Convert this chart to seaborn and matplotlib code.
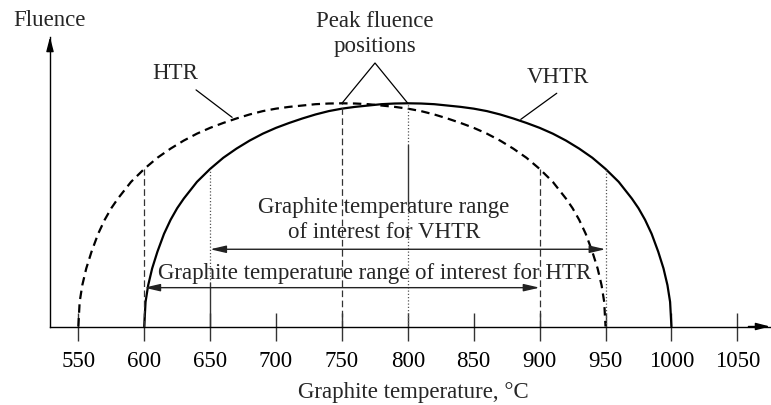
import numpy as np
import matplotlib
matplotlib.use("Agg")
import matplotlib.pyplot as plt
import seaborn as sns

# Relative neutron fluence versus graphite temperature (°C), peak = 1
htr_temp = [550, 551, 553, 556, 560, 565, 570, 575, 580, 590, 600, 610, 620, 630, 640,
            650, 660, 670, 680, 690, 700, 710, 720, 730, 740, 750,
            760, 770, 780, 790, 800, 810, 820, 830, 840, 850, 860, 870, 880,
            890, 900, 910, 920, 925, 930, 935, 940, 944, 947, 949, 950]
htr_fluence = [0.0, 0.11, 0.185, 0.26, 0.335, 0.415, 0.478, 0.530, 0.573, 0.648, 0.706,
               0.756, 0.797, 0.833, 0.864, 0.890, 0.912, 0.932, 0.950, 0.965, 0.976,
               0.984, 0.990, 0.996, 0.999, 1.0,
               0.999, 0.996, 0.990, 0.984, 0.976, 0.965, 0.950, 0.932, 0.912, 0.890,
               0.864, 0.833, 0.797, 0.756, 0.706, 0.648, 0.573, 0.530, 0.478, 0.415,
               0.335, 0.26, 0.185, 0.11, 0.0]

vhtr_temp = [600, 601, 603, 606, 610, 615, 620, 625, 630, 640, 650, 660, 670, 680, 690,
             700, 710, 720, 730, 740, 750, 760, 770, 780, 790, 800,
             810, 820, 830, 840, 850, 860, 870, 880, 890, 900, 910, 920, 930,
             940, 950, 960, 970, 975, 980, 985, 990, 994, 997, 999, 1000]
vhtr_fluence = [0.0, 0.11, 0.185, 0.26, 0.335, 0.415, 0.478, 0.530, 0.573, 0.648, 0.706,
                0.756, 0.797, 0.833, 0.864, 0.890, 0.912, 0.932, 0.950, 0.965, 0.976,
                0.984, 0.990, 0.996, 0.999, 1.0,
                0.999, 0.996, 0.990, 0.984, 0.976, 0.965, 0.950, 0.932, 0.912, 0.890,
                0.864, 0.833, 0.797, 0.756, 0.706, 0.648, 0.573, 0.530, 0.478, 0.415,
                0.335, 0.26, 0.185, 0.11, 0.0]

x_ticks = [550, 600, 650, 700, 750, 800, 850, 900, 950, 1000, 1050]
htr_range = [600, 900]
vhtr_range = [650, 950]
htr_peak = 750
vhtr_peak = 800

FS = 16.5


def fluence_at(temps, values, t):
    return values[temps.index(t)]


sns.set_theme(style="white")
plt.rcParams["font.family"] = ["Liberation Serif", "DejaVu Serif"]
plt.rcParams["font.size"] = FS

fig = plt.figure(figsize=(7.71, 4.05), dpi=100)
ax = fig.add_axes([50 / 771, (405 - 326.5) / 405, 720 / 771, (326.5 - 37) / 405])
ax.set_xlim(528.5, 1074.8)
ax.set_ylim(0, 1.297)

# Fluence curves
sns.lineplot(x=htr_temp, y=htr_fluence, ax=ax, color="black", lw=1.6,
             linestyle=(0, (3.8, 2.4)), sort=False, estimator=None)
sns.lineplot(x=vhtr_temp, y=vhtr_fluence, ax=ax, color="black", lw=1.6,
             sort=False, estimator=None)

# Axes with arrow heads
for side in ("top", "right"):
    ax.spines[side].set_visible(False)
for side in ("left", "bottom"):
    ax.spines[side].set_color("black")
    ax.spines[side].set_linewidth(1.0)
ax.set_yticks([])
ax.set_xticks(x_ticks)
ax.set_xticklabels([str(t) for t in x_ticks])
ax.tick_params(axis="x", direction="inout", length=19.5, width=1.0, color="#333333",
               pad=8, labelsize=FS, labelcolor="black", bottom=True)
ax.grid(False)

head = dict(arrowstyle="-|>,head_length=0.85,head_width=0.22", color="black",
            lw=1.0, shrinkA=0, shrinkB=0, mutation_scale=10)
ax.annotate("", xy=(0, 1), xytext=(0, 0.95), xycoords="axes fraction",
            textcoords="axes fraction", arrowprops=head, annotation_clip=False)
ax.annotate("", xy=(1, 0), xytext=(0.97, 0), xycoords="axes fraction",
            textcoords="axes fraction", arrowprops=head, annotation_clip=False)

ax.set_xlabel("Graphite temperature, °C", fontsize=FS, va="baseline")
ax.xaxis.set_label_coords((413 - 50) / 720, (326.5 - 398) / 289.5)
ax.set_ylabel("Fluence", fontsize=FS, rotation=0, ha="center", va="baseline")
ax.yaxis.set_label_coords(-0.001, (326.5 - 26) / 289.5)

# Vertical guide lines
dash_kw = dict(color="#333333", lw=0.9, linestyle=(0, (5.3, 2.8)))
dot_kw = dict(color="#555555", lw=0.9, linestyle=(0, (1, 1.6)))
for t in htr_range:
    ax.plot([t, t], [0, fluence_at(htr_temp, htr_fluence, t)], **dash_kw)
ax.plot([htr_peak, htr_peak], [0, fluence_at(htr_temp, htr_fluence, htr_peak)], **dash_kw)

ax.plot([vhtr_range[0]] * 2, [0.195, fluence_at(vhtr_temp, vhtr_fluence, vhtr_range[0])], **dot_kw)
ax.plot([vhtr_range[0]] * 2, [0, 0.195], color="#333333", lw=1.0)
ax.plot([vhtr_range[1]] * 2, [0, fluence_at(vhtr_temp, vhtr_fluence, vhtr_range[1])], **dot_kw)

ax.plot([vhtr_peak] * 2, [0.813, fluence_at(vhtr_temp, vhtr_fluence, vhtr_peak)], **dot_kw)
ax.plot([vhtr_peak] * 2, [0.544, 0.813], color="#333333", lw=1.0)
ax.plot([vhtr_peak] * 2, [0, 0.544], **dot_kw)

# Temperature ranges of interest
rng = dict(arrowstyle="<|-|>,head_length=0.95,head_width=0.22", color="#222222",
           lw=1.0, shrinkA=0, shrinkB=0, mutation_scale=10)
ax.annotate("", xy=(vhtr_range[1], 0.346), xytext=(vhtr_range[0], 0.346), arrowprops=rng)
ax.annotate("", xy=(htr_range[1], 0.174), xytext=(htr_range[0], 0.174), arrowprops=rng)

ax.text(782, 0.5085, "Graphite temperature range", ha="center", va="baseline", fontsize=FS)
ax.text(782, 0.3965, "of interest for VHTR", ha="center", va="baseline", fontsize=FS)
ax.text(774.5, 0.2128, "Graphite temperature range of interest for HTR",
        ha="center", va="baseline", fontsize=FS)

# Curve labels and leaders
leader = dict(color="black", lw=0.9, clip_on=False)
ax.text(623.4, 1.1075, "HTR", ha="center", va="baseline", fontsize=FS)
ax.plot([639.3, 666.7], [1.060, 0.937], **leader)
ax.text(914.2, 1.0896, "VHTR", ha="center", va="baseline", fontsize=FS)
ax.plot([913.0, 885.7], [1.045, 0.928], **leader)

ax.text(775.1, 1.343, "Peak fluence", ha="center", va="baseline", fontsize=FS)
ax.text(775.1, 1.230, "positions", ha="center", va="baseline", fontsize=FS)
ax.plot([htr_peak, 775.1, vhtr_peak],
        [fluence_at(htr_temp, htr_fluence, htr_peak), 1.1805,
         fluence_at(vhtr_temp, vhtr_fluence, vhtr_peak)], **leader)

fig.savefig("out.png", dpi=100)
